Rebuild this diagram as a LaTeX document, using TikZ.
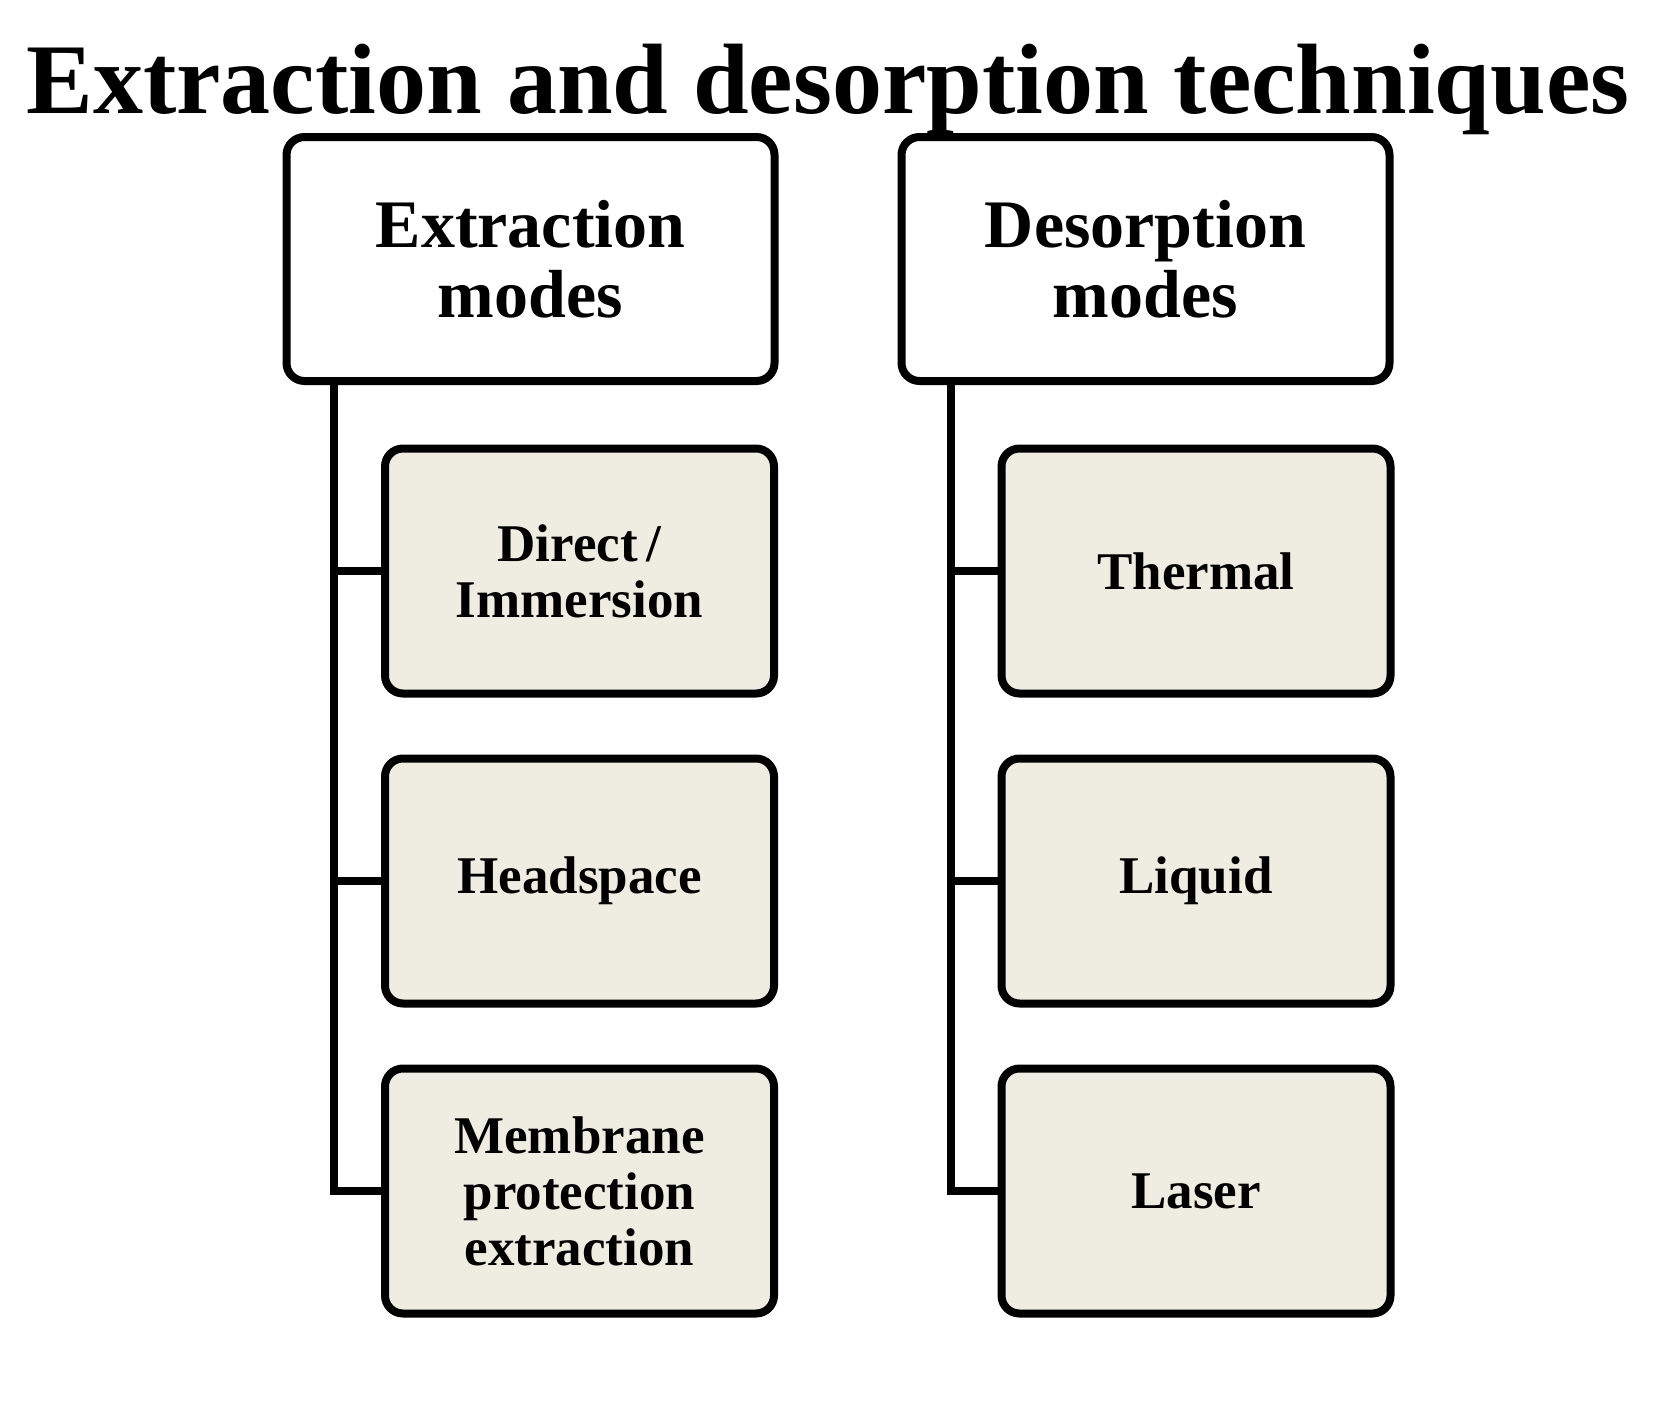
\documentclass[tikz,border=0pt]{standalone}
\usepackage{fontspec}
\setmainfont{Liberation Serif}
\definecolor{childfill}{RGB}{239,236,225}
\tikzset{
  topbox/.style={draw=black, line width=8pt, rounded corners=18pt, fill=white,
    minimum width=488pt, minimum height=244pt, align=center, inner sep=0pt,
    font=\fontsize{68}{70}\selectfont\bfseries},
  childbox/.style={draw=black, line width=8pt, rounded corners=18pt, fill=childfill,
    minimum width=389pt, minimum height=245pt, align=center, inner sep=0pt,
    font=\fontsize{53}{56}\selectfont\bfseries},
  conn/.style={line width=8pt, draw=black}
}
\begin{document}
\begin{tikzpicture}[x=1pt,y=-1pt]
\useasboundingbox (0,0) rectangle (1659,1408);
\node[anchor=base, font=\fontsize{100}{110}\selectfont\bfseries] (title) at (828,113) {Extraction and desorption techniques};

\coordinate (LX) at (334,0);
\coordinate (RX) at (951,0);

\node[topbox] (ext) at (530.5,259) {Extraction\\modes};
\node[topbox] (des) at (1145.5,259) {Desorption\\modes};

\node[childbox] (c1) at (579.5,571) {Direct\,/\\Immersion};
\node[childbox] (c2) at (579.5,881) {Headspace};
\node[childbox] (c3) at (579.5,1191) {Membrane\\protection\\extraction};

\node[childbox] (d1) at (1196,571) {Thermal};
\node[childbox] (d2) at (1196,881) {Liquid};
\node[childbox] (d3) at (1196,1191) {Laser};

\draw[conn] (ext.south -| LX) |- (c3.west);
\draw[conn] (c1.west) -- (c1.west -| LX);
\draw[conn] (c2.west) -- (c2.west -| LX);

\draw[conn] (des.south -| RX) |- (d3.west);
\draw[conn] (d1.west) -- (d1.west -| RX);
\draw[conn] (d2.west) -- (d2.west -| RX);
\end{tikzpicture}
\end{document}
